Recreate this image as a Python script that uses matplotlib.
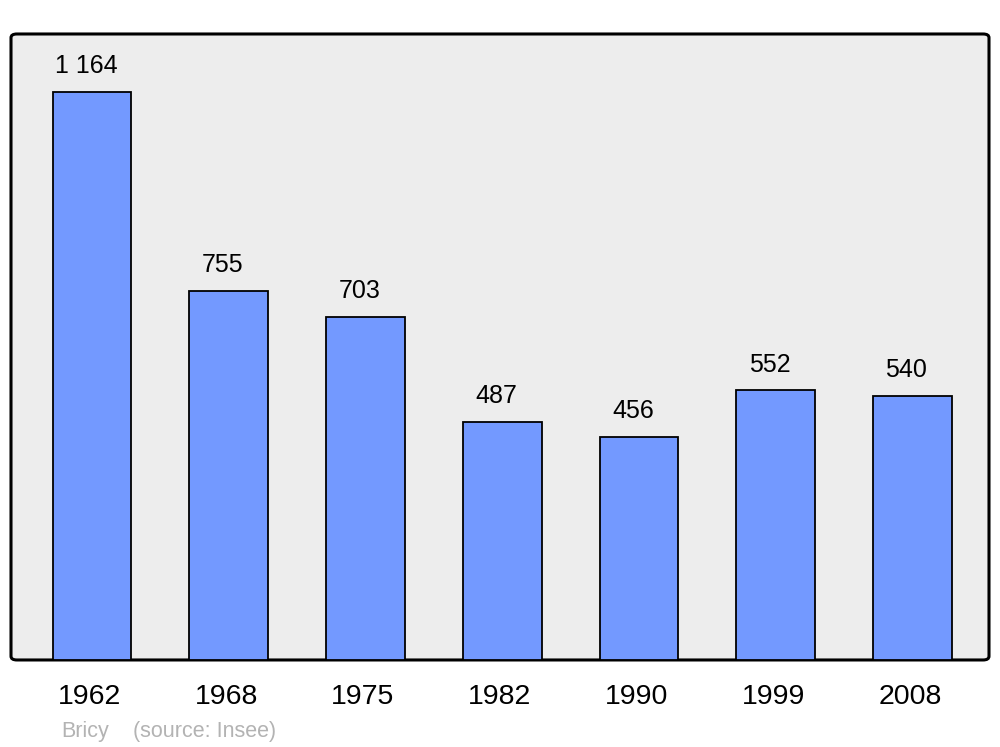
import matplotlib
matplotlib.use("Agg")
import matplotlib.pyplot as plt
import matplotlib.transforms as mtransforms
from matplotlib.patches import FancyBboxPatch

plt.rcParams["font.family"] = ["Liberation Sans", "DejaVu Sans"]

# population data
years = ["1962", "1968", "1975", "1982", "1990", "1999", "2008"]
population = [1164, 755, 703, 487, 456, 552, 540]
value_labels = ["1 164", "755", "703", "487", "456", "552", "540"]

fig = plt.figure(figsize=(10, 7.47), dpi=100)
ax = fig.add_axes([0.011, 0.1165, 0.978, 0.838])

# rounded grey panel
ax.set_facecolor("none")
for s in ax.spines.values():
    s.set_visible(False)
panel = FancyBboxPatch((0, 0), 1, 1, boxstyle="round,pad=0,rounding_size=0.006",
                       transform=ax.transAxes, facecolor="#ededed",
                       edgecolor="black", linewidth=2.2, zorder=0, clip_on=False)
ax.add_patch(panel)

x = list(range(len(years)))
ax.bar(x, population, width=0.575, color="#7399ff", edgecolor="black",
       linewidth=1.3, zorder=2)

for xi, v, lab in zip(x, population, value_labels):
    ax.annotate(lab, (xi - 0.045, v), xytext=(0, 10), textcoords="offset points",
                ha="center", va="bottom", fontsize=18, zorder=3)

ax.set_xlim(-0.593, 6.56)
ax.set_ylim(0, 1282)
ax.set_yticks([])
ax.set_xticks(x)
ax.set_xticklabels(years, fontsize=20.5)
ax.tick_params(axis="x", length=0, pad=17)
shift = mtransforms.ScaledTranslation(-2.5 / 100, 0, fig.dpi_scale_trans)
for lbl in ax.get_xticklabels():
    lbl.set_transform(lbl.get_transform() + shift)

fig.text(0.061, 0.013, "Bricy", color="#b3b3b3", fontsize=15.5, ha="left", va="baseline")
fig.text(0.133, 0.013, "(source: Insee)", color="#b3b3b3", fontsize=15.5, ha="left", va="baseline")

fig.savefig("out.png", dpi=100)
